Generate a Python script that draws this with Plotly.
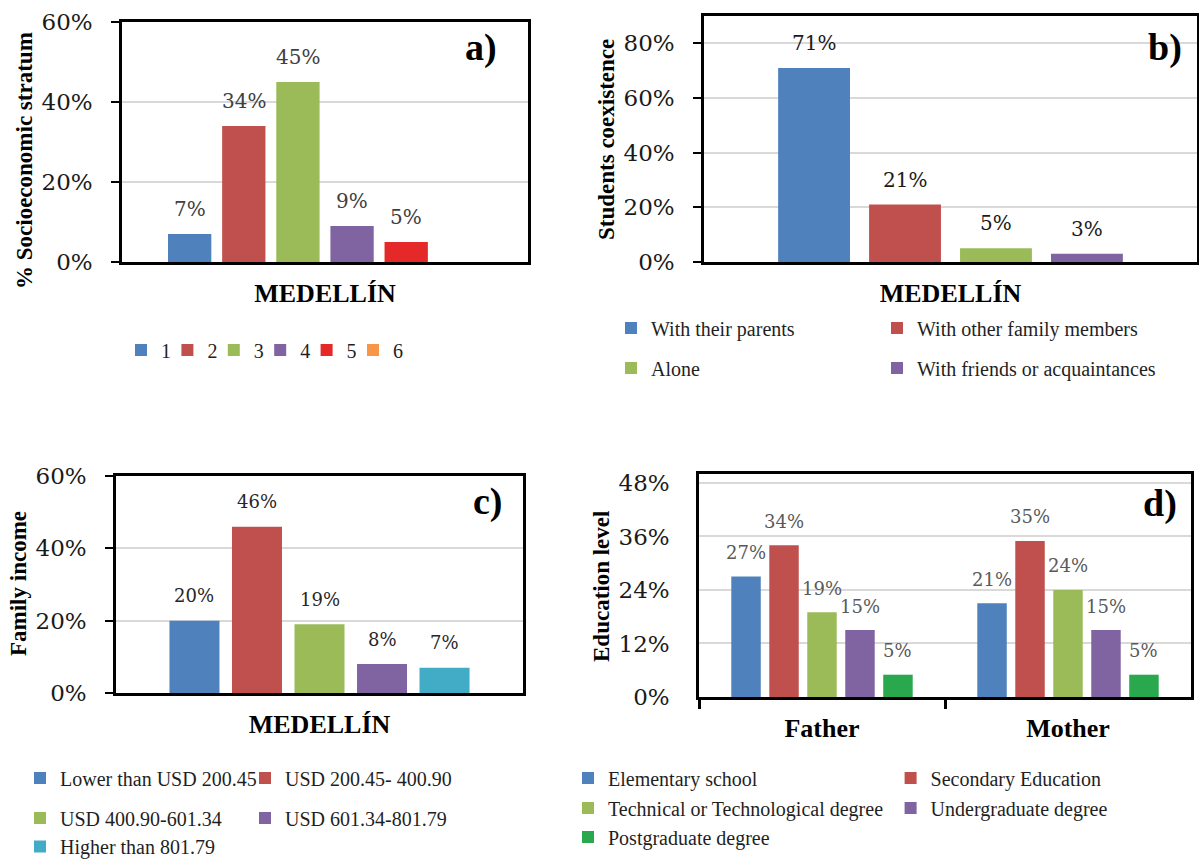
import plotly.graph_objects as go

W, H = 1199, 866

# ---------------- data ----------------
city = ["MEDELLÍN"]

stratum_names = ["1", "2", "3", "4", "5", "6"]
stratum_share = [0.07, 0.34, 0.45, 0.09, 0.05, 0.0]

living_names = ["With their parents", "With other family members",
                "Alone", "With friends or acquaintances"]
living_share = [0.71, 0.21, 0.05, 0.03]

income_names = ["Lower than USD 200.45", "USD 200.45- 400.90",
                "USD 400.90-601.34", "USD 601.34-801.79", "Higher than 801.79"]
income_share = [0.20, 0.46, 0.19, 0.08, 0.07]

parents = ["Father", "Mother"]
education_names = ["Elementary school", "Secondary Education",
                   "Technical or Technological degree", "Undergraduate degree",
                   "Postgraduate degree"]
education_father = [0.27, 0.34, 0.19, 0.15, 0.05]
education_mother = [0.21, 0.35, 0.24, 0.15, 0.05]

ticks_a = [0, 0.2, 0.4, 0.6]
ticks_b = [0, 0.2, 0.4, 0.6, 0.8]
ticks_c = [0, 0.2, 0.4, 0.6]
ticks_d = [0, 0.12, 0.24, 0.36, 0.48]

# ---------------- styles ----------------
BLUE, RED, GREEN, PURPLE = "#4F81BD", "#C0504D", "#9BBB59", "#8064A2"
colors_a = [BLUE, RED, GREEN, PURPLE, "#E52828", "#F79646"]
colors_b = [BLUE, RED, GREEN, PURPLE]
colors_c = [BLUE, RED, GREEN, PURPLE, "#42ABC5"]
colors_d = [BLUE, RED, GREEN, PURPLE, "#2AA84D"]

SERIF = "Liberation Serif"
TICKFONT = dict(family="DejaVu Serif", size=23, color="#1a1a1a")
BOLD = dict(family=SERIF, size=26, color="#000000", weight="bold")
LEGFONT = dict(family=SERIF, size=20, color="#1f1f1f")


def fx(px):
    return px / W


def fy(py):
    return 1 - py / H


fig = go.Figure()
annotations = []


def add_panel(ax, cats, names, series, colors, gap, groupgap, legend_of, col_step,
              label_size, label_color, label_shift):
    """Grouped bars with per-series width/offset and value labels."""
    n = len(names)
    group = 1 - gap
    slot = group / n
    width = slot * (1 - groupgap)
    xa = "x" if ax == 1 else f"x{ax}"
    ya = "y" if ax == 1 else f"y{ax}"
    for i, (name, vals) in enumerate(zip(names, series)):
        off = -group / 2 + i * slot + slot * groupgap / 2
        # legend entries: fixed column step, last entry of a row sized by its text
        last_in_row = i == n - 1 or legend_of[i + 1] != legend_of[i]
        fig.add_trace(go.Bar(
            x=cats, y=vals, name=name,
            marker=dict(color=colors[i], line=dict(width=0)),
            width=[width] * len(cats), offset=[off] * len(cats),
            xaxis=xa, yaxis=ya, legend=legend_of[i], hoverinfo="skip",
            legendwidth=None if last_in_row else col_step - 45,
        ))
        for k, v in enumerate(vals):
            if v <= 0:
                continue
            annotations.append(dict(
                x=k + off + width / 2, y=v, xref=xa, yref=ya,
                text=f"{v:.0%}", showarrow=False, yanchor="middle",
                yshift=label_shift,
                font=dict(family="DejaVu Serif", size=label_size, color=label_color),
            ))


add_panel(1, city, stratum_names, [[v] for v in stratum_share], colors_a,
          0.20, 0.20, ["legend"] * 6, 46.4, 20, "#404040", 25)
add_panel(2, city, living_names, [[v] for v in living_share], colors_b,
          0.262, 0.21, ["legend2", "legend2", "legend3", "legend3"], 266,
          20, "#1a1a1a", 25)
add_panel(3, city, income_names, [[v] for v in income_share], colors_c,
          0.232, 0.20, ["legend4", "legend4", "legend5", "legend5", "legend6"], 225,
          18, "#262626", 25)
add_panel(4, parents, education_names,
          [[f, m] for f, m in zip(education_father, education_mother)], colors_d,
          0.228, 0.224, ["legend7", "legend7", "legend8", "legend8", "legend9"], 322.6,
          18, "#595959", 24)


def yaxis(dom, rng, tickvals, anchor, ticks=True):
    return dict(
        domain=[fy(dom[1]), fy(dom[0])], range=rng, tickvals=tickvals, anchor=anchor,
        tickformat=".0%", tickfont=TICKFONT,
        showgrid=True, gridcolor="#D9D9D9", gridwidth=2, zeroline=False,
        showline=True, linecolor="#000000", linewidth=2.5, mirror=True,
        ticks="outside" if ticks else "", ticklen=8, tickwidth=2, tickcolor="#000000",
        ticklabelstandoff=14 if ticks else 22, fixedrange=True,
    )


def xaxis(dom, anchor, rng, boundary_ticks=False, standoff=6):
    return dict(
        domain=[fx(dom[0]), fx(dom[1])], anchor=anchor, type="category", range=rng,
        tickfont=BOLD, showgrid=False, zeroline=False,
        showline=True, linecolor="#000000", linewidth=2.5, mirror=True,
        ticks="outside" if boundary_ticks else "",
        tickson="boundaries" if boundary_ticks else "labels",
        ticklen=9, tickwidth=2.5, tickcolor="#000000",
        ticklabelstandoff=standoff, fixedrange=True,
    )


layout = dict(
    width=W, height=H, margin=dict(l=0, r=0, t=0, b=0, autoexpand=False),
    paper_bgcolor="white", plot_bgcolor="white",
    barmode="group",
    xaxis=xaxis((122, 528), "y", [-0.5, 0.5]),
    yaxis=yaxis((22, 262), [0, 0.6], ticks_a, "x"),
    xaxis2=xaxis((704, 1197), "y2", [-0.5, 0.5]),
    yaxis2=yaxis((16, 262), [0, 0.9], ticks_b, "x2"),
    xaxis3=xaxis((116, 523), "y3", [-0.5, 0.5]),
    yaxis3=yaxis((476, 693), [0, 0.6], ticks_c, "x3"),
    xaxis4=xaxis((699, 1191), "y4", [-0.5, 1.5], boundary_ticks=True, standoff=6),
    yaxis4=yaxis((474, 697), [0, 0.5], ticks_d, "x4", ticks=False),
)


def legend(left_text_px, yc, anchor="middle"):
    return dict(
        x=fx(left_text_px - 40), y=fy(yc), xanchor="left", yanchor=anchor,
        orientation="h", font=LEGFONT, bgcolor="rgba(0,0,0,0)",
        traceorder="normal", itemclick=False, itemdoubleclick=False,
    )


layout["legend"] = legend(161, 350)
layout["legend2"] = legend(651, 328)
layout["legend3"] = legend(651, 368)
layout["legend4"] = legend(60, 778)
layout["legend5"] = legend(60, 818)
layout["legend6"] = legend(60, 866, anchor="bottom")
layout["legend7"] = legend(608, 778)
layout["legend8"] = legend(608, 808)
layout["legend9"] = legend(608, 837)

# axis titles and panel tags
titles = [
    ("% Socioeconomic stratum", 24, 161),
    ("Students coexistence", 606, 139),
    ("Family income", 18, 584),
    ("Education level", 601, 587),
]
for text, xc, yc in titles:
    annotations.append(dict(
        x=fx(xc), y=fy(yc), xref="paper", yref="paper", text=text, textangle=-90,
        showarrow=False, xanchor="center", yanchor="middle",
        font=dict(family=SERIF, size=23, color="#000000", weight="bold"),
    ))

tags = [("a)", 481, 48), ("b)", 1165, 48), ("c)", 488, 501), ("d)", 1160, 503)]
for text, xc, yc in tags:
    annotations.append(dict(
        x=fx(xc), y=fy(yc), xref="paper", yref="paper", text=text,
        showarrow=False, xanchor="center", yanchor="middle",
        font=dict(family=SERIF, size=38, color="#000000", weight="bold"),
    ))

layout["annotations"] = annotations
fig.update_layout(**layout)
fig.write_html("out.html")
